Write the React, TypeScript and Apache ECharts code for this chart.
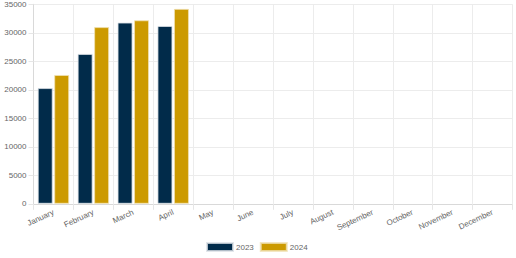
import React, { useEffect, useRef } from "react";
import * as echarts from "echarts";

const months = ["January", "February", "March", "April", "May", "June", "July", "August", "September", "October", "November", "December"];
const values2023 = [20300, 26300, 31800, 31200, null, null, null, null, null, null, null, null];
const values2024 = [22600, 31000, 32200, 34200, null, null, null, null, null, null, null, null];

const NAVY = "#012b4a";
const GOLD = "#cc9a00";
const FONT = "'Liberation Sans', Arial, sans-serif";

export default function App() {
  const ref = useRef<HTMLDivElement>(null);
  useEffect(() => {
    if (!ref.current) return;
    const chart = echarts.init(ref.current, undefined, { renderer: "svg" });
    chart.setOption({
      animation: false,
      textStyle: { fontFamily: FONT },
      grid: { left: 33.5, right: 3.5, top: 4.3, bottom: 54.2, containLabel: false },
      legend: {
        left: 206,
        top: 242,
        padding: 0,
        itemWidth: 26,
        itemHeight: 8,
        itemGap: 6,
        icon: "rect",
        textStyle: { fontSize: 8, color: "#666", fontFamily: FONT, padding: [0, 0, 0, -2] },
        data: ["2023", "2024"],
      },
      xAxis: {
        type: "category",
        data: months,
        boundaryGap: true,
        axisLine: { lineStyle: { color: "#d9d9d9", width: 1 } },
        axisTick: { show: true, length: 6, alignWithLabel: false, lineStyle: { color: "#e6e6e6" } },
        splitLine: { show: true, lineStyle: { color: "#ececec", width: 1 } },
        axisLabel: { rotate: 25, fontSize: 8, color: "#666", fontFamily: FONT, margin: 8, interval: 0 },
      },
      yAxis: {
        type: "value",
        min: 0,
        max: 35000,
        interval: 5000,
        axisLine: { show: true, lineStyle: { color: "#d9d9d9", width: 1 } },
        axisTick: { show: true, length: 5, lineStyle: { color: "#e6e6e6" } },
        splitLine: { show: true, lineStyle: { color: "#ececec", width: 1 } },
        axisLabel: { fontSize: 8, color: "#666", fontFamily: FONT, margin: 7, formatter: (v: number) => String(v) },
      },
      series: [
        {
          name: "2023",
          type: "bar",
          data: values2023,
          barWidth: 15,
          barGap: "10%",
          itemStyle: { color: NAVY, borderColor: "rgba(220,225,230,0.8)", borderWidth: 1 },
        },
        {
          name: "2024",
          type: "bar",
          data: values2024,
          barWidth: 15,
          barGap: "10%",
          itemStyle: { color: GOLD, borderColor: "rgba(240,225,180,0.8)", borderWidth: 1 },
        },
      ],
    });
    return () => chart.dispose();
  }, []);
  return <div ref={ref} style={{ width: 516, height: 258, position: "absolute", left: 0, top: 0 }} />;
}
